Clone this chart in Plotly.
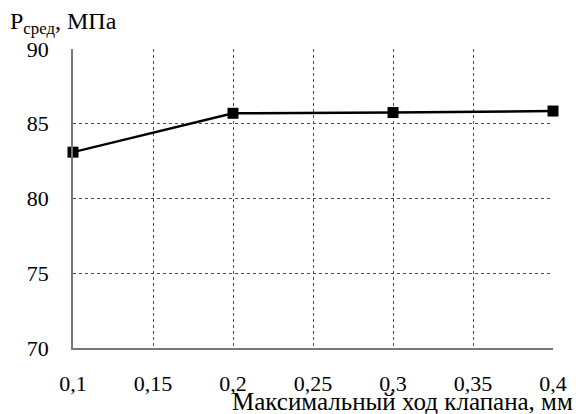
import plotly.graph_objects as go

# Maximum valve lift, mm
lift_mm = [0.1, 0.2, 0.3, 0.4]
# Mean pressure, MPa
p_mean_mpa = [83.1, 85.7, 85.75, 85.85]

x_ticks = [0.1, 0.15, 0.2, 0.25, 0.3, 0.35, 0.4]
y_ticks = [70, 75, 80, 85, 90]

FONT = "serif"

fig = go.Figure()
fig.add_trace(go.Scatter(
    x=lift_mm, y=p_mean_mpa, mode="lines+markers",
    line=dict(color="black", width=2.4),
    marker=dict(symbol="square", size=11, color="black"),
    cliponaxis=False, showlegend=False,
))

grid = dict(showgrid=True, gridcolor="#4a4a4a", gridwidth=1, griddash="3px,3px")

fig.update_xaxes(
    range=[0.1, 0.4], tickvals=x_ticks, tickformat=".2~f",
    showline=True, linecolor="#777777", linewidth=1.5,
    ticks="", ticklabelstandoff=15, zeroline=False,
    tickfont=dict(family=FONT, size=22, color="black"), **grid,
)
fig.update_yaxes(
    range=[70, 90], tickvals=y_ticks,
    showline=True, linecolor="#777777", linewidth=1.5,
    ticks="", ticklabelstandoff=18, zeroline=False,
    tickfont=dict(family=FONT, size=22, color="black"), **grid,
)

fig.add_annotation(
    text="Максимальный ход клапана, мм", xref="paper", yref="paper",
    x=1.046, y=-0.128, xanchor="right", yanchor="top", showarrow=False,
    font=dict(family=FONT, size=25, color="black"),
)
fig.add_annotation(
    text="P<sub>сред</sub>, МПа", xref="paper", yref="paper",
    x=-0.135, y=1.03, xanchor="left", yanchor="bottom", showarrow=False,
    font=dict(family=FONT, size=24, color="black"),
)

fig.update_layout(
    width=579, height=414, separators=", ",
    margin=dict(l=73, r=20, t=49, b=66),
    plot_bgcolor="white", paper_bgcolor="white",
)

fig.write_html("out.html")
